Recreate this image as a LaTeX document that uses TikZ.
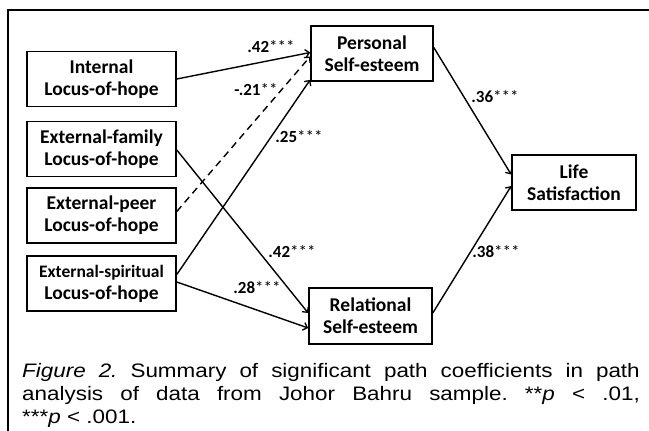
\documentclass[tikz,border=0pt]{standalone}
\usepackage{fontspec}
\usepackage{graphicx}
\setmainfont{Carlito}
\newfontfamily\capfont{Liberation Sans}
\usetikzlibrary{arrows.meta,calc}
\newcommand\coef[2]{\textbf{#1}#2}
\frenchspacing
\begin{document}
\begin{tikzpicture}[x=1pt,y=-1pt,
  box/.style={draw,line width=1.6pt,minimum width=149pt,minimum height=55pt,inner sep=0pt,align=center,font=\fontsize{19.5}{22}\selectfont\bfseries},
  arr/.style={line width=1.4pt,-{Straight Barb[length=4pt,width=8pt,line width=1.3pt]}},
  lbl/.style={inner sep=0pt,font=\fontsize{17}{19}\selectfont},
  capline/.style={anchor=base west,inner sep=0pt,font=\capfont\fontsize{19.5}{23}\selectfont}]
\useasboundingbox (0,0) rectangle (649,431);
\draw[line width=1.2pt] (8,431) -- (8,10) -- (649,10);

\node[box] (int) at (101.5,79) {Internal\\Locus-of-hope};
\node[box] (fam) at (101.5,149) {External-family\\Locus-of-hope};
\node[box] (peer) at (101.5,215.5) {External-peer\\Locus-of-hope};
\node[box] (spi) at (101.5,283.5) {{\fontsize{17.5}{22}\selectfont External-spiritual}\\Locus-of-hope};
\node[box,minimum width=122pt] (per) at (372,53.5) {Personal\\Self-esteem};
\node[box,minimum width=123pt,minimum height=56pt] (rel) at (370.5,316) {Relational\\Self-esteem};
\node[box,minimum width=124pt] (life) at (574,182.5) {Life\\Satisfaction};

\draw[arr] (int.east) -- ($(per.west)+(0,-1)$);
\draw[arr,dash pattern=on 7pt off 5pt] ($(peer.east)+(0,-4)$) -- ($(per.west)+(0,3)$);
\draw[arr] ($(spi.east)+(0,-9)$) -- ($(per.south west)+(0,-2)$);
\draw[arr] ($(fam.east)+(0,1)$) -- ($(rel.west)+(0,-3)$);
\draw[arr] ($(spi.east)+(0,-1.5)$) -- ($(rel.west)+(0,12)$);
\draw[arr] ($(per.east)+(0,-6)$) -- ($(life.west)+(0,-8)$);
\draw[arr] ($(rel.east)+(0,-3)$) -- ($(life.west)+(0,3.5)$);

\node[lbl] (l1) at (271,47) {\coef{.42}{***}};
\node[lbl] (l2) at (256,90) {\coef{-.21}{**}};
\node[lbl] (l3) at (299,137) {\coef{.25}{***}};
\node[lbl] (l4) at (495,97) {\coef{.36}{***}};
\node[lbl] (l5) at (292,252) {\coef{.42}{***}};
\node[lbl] (l6) at (257,288) {\coef{.28}{***}};
\node[lbl] (l7) at (496,252) {\coef{.38}{***}};

\node[capline] (c1) at (22,377) {\scalebox{1.15}[1]{\makebox[537pt][s]{\textit{Figure 2.} Summary of significant path coefficients in path}}};
\node[capline] (c2) at (22,400) {\scalebox{1.15}[1]{\makebox[537pt][s]{analysis of data from Johor Bahru sample. **\textit{p} < .01,}}};
\node[capline] (c3) at (22,423) {\scalebox{1.15}[1]{***\textit{p} < .001.}};
\end{tikzpicture}
\end{document}
